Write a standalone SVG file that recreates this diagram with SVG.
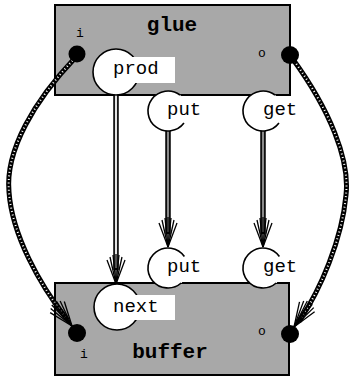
<svg xmlns="http://www.w3.org/2000/svg" xmlns:xlink="http://www.w3.org/1999/xlink" width="350" height="378" viewBox="0 0 350 378">
  <style>
    .box { fill: #a8a8a8; stroke: #000; stroke-width: 2; }
    .title { font-family: "Liberation Mono", "DejaVu Sans Mono", monospace; font-weight: bold; font-size: 21px; fill: #000; }
    .lbl { font-family: "Liberation Mono", "DejaVu Sans Mono", monospace; font-size: 19px; fill: #000; }
    .small { font-family: "Liberation Mono", "DejaVu Sans Mono", monospace; font-size: 13px; fill: #000; }
    .disc { fill: #fff; stroke: none; }
    .ring { fill: none; stroke: #000; stroke-width: 1.6; }
    .tab { fill: #fff; stroke: none; }
    .dot { fill: #000; }
    .stemO { stroke: #000; stroke-width: 5.5; fill: none; }
    .stemI1 { stroke: #e4e4e4; stroke-width: 2.2; fill: none; }
    .stemI2 { stroke: #8a8a8a; stroke-width: 2.2; fill: none; }
    .ropeO { stroke: #000; stroke-width: 5; fill: none; stroke-linecap: round; }
    .ropeI { stroke: #fff; stroke-width: 2; fill: none; stroke-dasharray: 1 2.6; }
  </style>
  <defs>
    <g id="fh" stroke="#000" stroke-width="1.3" fill="none">
      <line x1="-9" y1="-24" x2="0" y2="0"/>
      <line x1="-6" y1="-27" x2="0" y2="0"/>
      <line x1="-3" y1="-29" x2="0" y2="0"/>
      <line x1="0" y1="-30" x2="0" y2="0"/>
      <line x1="3" y1="-29" x2="0" y2="0"/>
      <line x1="6" y1="-27" x2="0" y2="0"/>
      <line x1="9" y1="-24" x2="0" y2="0"/>
    </g>
  </defs>

  <g id="glue">
    <rect class="box" x="55" y="5" width="235" height="90"/>
    <text class="title" x="172" y="31" text-anchor="middle">glue</text>
  </g>

  <g id="buffer">
    <rect class="box" x="55" y="283" width="234" height="92"/>
    <text class="title" x="170" y="358" text-anchor="middle">buffer</text>
  </g>

  <g id="connectors">
    <line class="stemO" x1="116" y1="95" x2="116" y2="270"/>
    <line class="stemI1" x1="116" y1="95" x2="116" y2="268"/>
    <use xlink:href="#fh" href="#fh" transform="translate(116,284)"/>
    <line class="stemO" x1="168" y1="131" x2="168" y2="234"/>
    <line class="stemI2" x1="168" y1="131" x2="168" y2="232"/>
    <use xlink:href="#fh" href="#fh" transform="translate(168,247)"/>
    <line class="stemO" x1="263" y1="131" x2="263" y2="234"/>
    <line class="stemI2" x1="263" y1="131" x2="263" y2="232"/>
    <use xlink:href="#fh" href="#fh" transform="translate(263,247)"/>
    <path class="ropeO" d="M 75 58 C 35 100, 5 150, 9 192 C 12 235, 40 285, 66 318"/>
    <path class="ropeI" d="M 75 58 C 35 100, 5 150, 9 192 C 12 235, 40 285, 66 318"/>
    <use xlink:href="#fh" href="#fh" transform="translate(72,326) rotate(-38)"/>
    <path class="ropeO" d="M 292 58 C 330 110, 350 160, 346 195 C 342 240, 320 290, 300 320"/>
    <path class="ropeI" d="M 292 58 C 330 110, 350 160, 346 195 C 342 240, 320 290, 300 320"/>
    <use xlink:href="#fh" href="#fh" transform="translate(294,327) rotate(33)"/>
  </g>

  <g id="glue-i">
    <text class="small" x="80" y="37" text-anchor="middle">i</text>
    <circle class="dot" cx="77" cy="54" r="8.5"/>
  </g>
  <g id="glue-o">
    <text class="small" x="262" y="57" text-anchor="middle">o</text>
    <circle class="dot" cx="290" cy="55" r="9"/>
  </g>
  <g id="glue-prod">
    <circle class="disc" cx="116" cy="72" r="23"/>
    <circle class="ring" cx="116" cy="72" r="23"/>
    <rect class="tab" x="108" y="57" width="67" height="26"/>
    <text class="lbl" x="113" y="74">prod</text>
  </g>
  <g id="glue-put">
    <circle class="disc" cx="168" cy="111" r="20"/>
    <path class="ring" d="M 183.97 123.04 A 20 20 0 1 1 180 95"/>
    <text class="lbl" x="167" y="115">put</text>
  </g>
  <g id="glue-get">
    <circle class="disc" cx="263" cy="111" r="20"/>
    <path class="ring" d="M 278.97 123.04 A 20 20 0 1 1 275 95"/>
    <text class="lbl" x="263" y="115">get</text>
  </g>

  <g id="buffer-i">
    <circle class="dot" cx="77" cy="333" r="9"/>
    <text class="small" x="84" y="358" text-anchor="middle">i</text>
  </g>
  <g id="buffer-o">
    <text class="small" x="262" y="335" text-anchor="middle">o</text>
    <circle class="dot" cx="290" cy="334" r="9"/>
  </g>
  <g id="buffer-next">
    <circle class="disc" cx="117" cy="307" r="23"/>
    <circle class="ring" cx="117" cy="307" r="23"/>
    <rect class="tab" x="107" y="295" width="68" height="25"/>
    <text class="lbl" x="113" y="312">next</text>
  </g>
  <g id="buffer-put">
    <circle class="disc" cx="168" cy="268" r="20"/>
    <path class="ring" d="M 181.2 283 A 20 20 0 1 1 184.38 256.53"/>
    <text class="lbl" x="167" y="272">put</text>
  </g>
  <g id="buffer-get">
    <circle class="disc" cx="263" cy="268" r="20"/>
    <path class="ring" d="M 276.2 283 A 20 20 0 1 1 279.38 256.53"/>
    <text class="lbl" x="263" y="272">get</text>
  </g>
</svg>
